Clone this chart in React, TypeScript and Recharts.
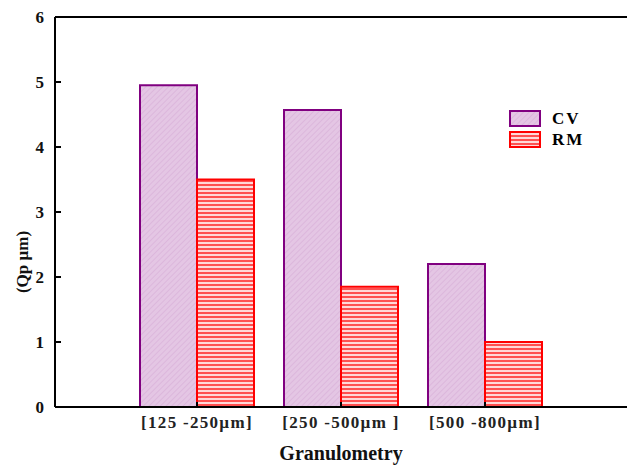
import { BarChart, Bar, XAxis, YAxis, ReferenceLine } from "recharts"

const categories = ["[125 -250µm]", "[250 -500µm ]", "[500 -800µm]"]
const cvValues = [4.95, 4.57, 2.2]
const rmValues = [3.5, 1.85, 1.0]
const yTicks = [0, 1, 2, 3, 4, 5, 6]

const data = categories.map((name, i) => ({ name, CV: cvValues[i], RM: rmValues[i] }))

const font = "'Liberation Serif', 'Times New Roman', serif"

function LegendBox() {
  const items = [
    { label: "CV", fill: "url(#cvPattern)", stroke: "#800080" },
    { label: "RM", fill: "url(#rmPattern)", stroke: "#ff0000" },
  ]
  return (
    <div style={{ position: "absolute", left: 508, top: 108, fontFamily: font, fontWeight: "bold", fontSize: 17 }}>
      {items.map((it) => (
        <div key={it.label} style={{ display: "flex", alignItems: "center", height: 21 }}>
          <svg width={34} height={18} style={{ display: "block" }}>
            <rect x={2} y={1} width={30} height={15} fill={it.fill} stroke={it.stroke} strokeWidth={2} />
          </svg>
          <span style={{ marginLeft: 10, letterSpacing: 2 }}>{it.label}</span>
        </div>
      ))}
    </div>
  )
}

// y label sits lower than the plot middle in the original
const YLabel = () => (
  <text
    x={22}
    y={262}
    transform="rotate(-90 22 262)"
    textAnchor="middle"
    dominantBaseline="central"
    fill="#111"
    fontFamily={font}
    fontWeight="bold"
    fontSize={17}
  >
    (Qp µm)
  </text>
)

export default function App() {
  return (
    <div style={{ position: "absolute", left: 0, top: 0, width: 627, height: 465, background: "#fff" }}>
      <BarChart
        width={627}
        height={465}
        data={data}
        margin={{ top: 17, right: 0, left: 0, bottom: 0 }}
        barGap={0}
        barSize={57}
      >
        <defs>
          <pattern id="cvPattern" patternUnits="userSpaceOnUse" width={4} height={4} patternTransform="rotate(45)">
            <rect width={4} height={4} fill="#e4c6e4" />
            <line x1={0} y1={0} x2={0} y2={4} stroke="#d4a8d4" strokeWidth={1} />
          </pattern>
          <pattern id="rmPattern" patternUnits="userSpaceOnUse" width={4} height={4}>
            <rect width={4} height={4} fill="#ffd8d8" />
            <rect y={0} width={4} height={2} fill="#ff5050" />
          </pattern>
        </defs>
        <XAxis
          dataKey="name"
          height={58}
          padding={{ left: 70, right: 70 }}
          axisLine={{ stroke: "#000", strokeWidth: 2 }}
          tickLine={{ stroke: "#000", strokeWidth: 2 }}
          tickSize={-5}
          tickMargin={14}
          tick={{ fill: "#222", fontFamily: font, fontWeight: "bold", fontSize: 17, letterSpacing: 1.3 }}
          label={{
            value: "Granulometry",
            position: "insideBottom",
            offset: 5,
            fill: "#111",
            fontFamily: font,
            fontWeight: "bold",
            fontSize: 20,
          }}
        />
        <YAxis
          width={55}
          domain={[0, 6]}
          ticks={yTicks}
          interval={0}
          axisLine={{ stroke: "#000", strokeWidth: 2 }}
          tickLine={{ stroke: "#000", strokeWidth: 2 }}
          tickSize={-6}
          tickMargin={17}
          tick={{ fill: "#111", fontFamily: font, fontWeight: "bold", fontSize: 17 }}
          label={<YLabel />}
        />
        <ReferenceLine y={6} stroke="#000" strokeWidth={2} />
        <Bar dataKey="CV" fill="url(#cvPattern)" stroke="#800080" strokeWidth={2} isAnimationActive={false} />
        <Bar dataKey="RM" fill="url(#rmPattern)" stroke="#ff0000" strokeWidth={2} isAnimationActive={false} />
      </BarChart>
      <LegendBox />
    </div>
  )
}
